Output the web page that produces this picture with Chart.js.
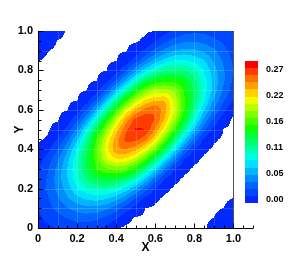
<!DOCTYPE html>
<html>
<head>
<meta charset="utf-8">
<script src="https://cdn.jsdelivr.net/npm/chart.js@4.4.1/dist/chart.umd.min.js"></script>
<style>
  html, body { margin: 0; padding: 0; background: #fff; }
  #wrap { width: 289px; height: 257px; }
</style>
</head>
<body>
<div id="wrap"><canvas id="chart" width="289" height="257"></canvas></div>
<script>
// Grid nodes of the field
const xValues = [0, 0.05, 0.1, 0.15, 0.2, 0.25, 0.3, 0.35, 0.4, 0.45, 0.5, 0.55, 0.6, 0.65, 0.7, 0.75, 0.8, 0.85, 0.9, 0.95, 1];
const yValues = [0, 0.05, 0.1, 0.15, 0.2, 0.25, 0.3, 0.35, 0.4, 0.45, 0.5, 0.55, 0.6, 0.65, 0.7, 0.75, 0.8, 0.85, 0.9, 0.95, 1];

// Field values, one row per y node (bottom to top)
const z00 = [0.0095, 0.0115, 0.0141, 0.0176, 0.0191, 0.0188, 0.0154, 0.0101, 0.0012, 0, 0, 0, 0, 0, 0, 0, 0, 0, 0.004, 0.007, 0.009];
const z01 = [0.0111, 0.0160, 0.0221, 0.0272, 0.0315, 0.0324, 0.0301, 0.0235, 0.0148, 0.0032, 0, 0, 0, 0, 0, 0, 0, 0, 0.0011, 0.004, 0.007];
const z02 = [0.0134, 0.0215, 0.0309, 0.0395, 0.0461, 0.0503, 0.0495, 0.0437, 0.0329, 0.0201, 0.0072, 0.0008, 0, 0, 0, 0, 0, 0, 0, 0.0011, 0.004];
const z03 = [0.0164, 0.0258, 0.0384, 0.0525, 0.0630, 0.0704, 0.0731, 0.0695, 0.0596, 0.0437, 0.0258, 0.0091, 0.0020, 0, 0, 0, 0, 0, 0, 0, 0.0012];
const z04 = [0.0171, 0.0293, 0.0439, 0.0612, 0.0801, 0.0916, 0.0988, 0.0998, 0.0921, 0.0764, 0.0556, 0.0326, 0.0109, 0.0023, 0, 0, 0, 0, 0, 0, 0];
const z05 = [0.0161, 0.0291, 0.0467, 0.0670, 0.0890, 0.1124, 0.1250, 0.1311, 0.1278, 0.1172, 0.0967, 0.0668, 0.0371, 0.0121, 0.0024, 0, 0, 0, 0, 0, 0];
const z06 = [0.0122, 0.0258, 0.0444, 0.0679, 0.0940, 0.1215, 0.1491, 0.1601, 0.1667, 0.1618, 0.1408, 0.1099, 0.0736, 0.0400, 0.0128, 0.0025, 0, 0, 0, 0, 0];
const z07 = [0.0070, 0.0187, 0.0375, 0.0623, 0.0927, 0.1246, 0.1556, 0.1896, 0.2027, 0.2003, 0.1839, 0.1553, 0.1185, 0.0780, 0.0412, 0.0125, 0.0024, 0, 0, 0, 0];
const z08 = [0.0022, 0.0102, 0.0262, 0.0511, 0.0826, 0.1188, 0.1585, 0.1969, 0.2279, 0.2304, 0.2209, 0.1983, 0.1645, 0.1219, 0.0765, 0.0390, 0.0117, 0.0022, 0, 0, 0];
const z09 = [0, 0.0018, 0.0139, 0.0347, 0.0655, 0.1050, 0.1503, 0.1905, 0.2239, 0.2480, 0.2485, 0.2340, 0.2040, 0.1613, 0.1155, 0.0712, 0.0355, 0.0103, 0.0018, 0, 0];
const z10 = [0, 0, 0.0040, 0.0178, 0.0442, 0.0829, 0.1263, 0.1709, 0.2101, 0.2414, 0.2585, 0.2560, 0.2294, 0.1932, 0.1501, 0.1052, 0.0630, 0.0298, 0.0082, 0.0007, 0];
const z11 = [0, 0, 0.0003, 0.0051, 0.0225, 0.0531, 0.0942, 0.1392, 0.1843, 0.2225, 0.2484, 0.2545, 0.2421, 0.2135, 0.1761, 0.1328, 0.0884, 0.0501, 0.0235, 0.0039, 0];
const z12 = [0, 0, 0, 0.0007, 0.0062, 0.0255, 0.0586, 0.1016, 0.1475, 0.1896, 0.2182, 0.2352, 0.2429, 0.2206, 0.1889, 0.1479, 0.1056, 0.0695, 0.0393, 0.0178, 0.0014];
const z13 = [0, 0, 0, 0, 0.0007, 0.0068, 0.0275, 0.0620, 0.1046, 0.1446, 0.1795, 0.2031, 0.2144, 0.2149, 0.1853, 0.1502, 0.1164, 0.0829, 0.0528, 0.0289, 0.0127];
const z14 = [0, 0, 0, 0, 0, 0.0008, 0.0072, 0.0283, 0.0608, 0.0990, 0.1346, 0.1636, 0.1797, 0.1800, 0.1709, 0.1458, 0.1179, 0.0884, 0.0611, 0.0377, 0.0201];
const z15 = [0, 0, 0, 0, 0, 0, 0.0008, 0.0070, 0.0268, 0.0566, 0.0902, 0.1191, 0.1374, 0.1429, 0.1417, 0.1341, 0.1107, 0.0868, 0.0631, 0.0423, 0.0249];
const z16 = [0, 0, 0, 0, 0, 0, 0, 0.0008, 0.0066, 0.0245, 0.0501, 0.0758, 0.0947, 0.1081, 0.1121, 0.1076, 0.0988, 0.0791, 0.0602, 0.0417, 0.0268];
const z17 = [0.0012, 0, 0, 0, 0, 0, 0, 0, 0.0007, 0.0058, 0.0205, 0.0398, 0.0596, 0.0743, 0.0821, 0.0826, 0.0768, 0.0685, 0.0522, 0.0381, 0.0247];
const z18 = [0.004, 0.0012, 0, 0, 0, 0, 0, 0, 0, 0.0006, 0.0046, 0.0162, 0.0312, 0.0453, 0.0547, 0.0586, 0.0573, 0.0507, 0.0434, 0.0310, 0.0215];
const z19 = [0.007, 0.004, 0.0008, 0, 0, 0, 0, 0, 0, 0, 0.0002, 0.0022, 0.0123, 0.0230, 0.0323, 0.0379, 0.0387, 0.0363, 0.0301, 0.0245, 0.0161];
const z20 = [0.009, 0.007, 0.004, 0, 0, 0, 0, 0, 0, 0, 0, 0, 0.0008, 0.0088, 0.0160, 0.0213, 0.0240, 0.0230, 0.0205, 0.0156, 0.0125];
const zRows = [z00, z01, z02, z03, z04, z05, z06, z07, z08, z09, z10, z11, z12, z13, z14, z15, z16, z17, z18, z19, z20];

// Contour levels (20 bands) and tick labels
const levels = [0, 0.0135, 0.027, 0.0405, 0.054, 0.0675, 0.081, 0.0945, 0.108, 0.1215, 0.135,
                0.1485, 0.162, 0.1755, 0.189, 0.2025, 0.216, 0.2295, 0.243, 0.2565, 0.27];
const cutoff = 0.001;
const xTicks = [0, 0.2, 0.4, 0.6, 0.8, 1];
const yTicks = [0, 0.2, 0.4, 0.6, 0.8, 1];
const barTicks = [0, 0.054, 0.108, 0.162, 0.216, 0.27];

// Band colours, lowest first
const bandColors = ['#0028ff', '#0046ff', '#0064ff', '#008cff', '#00b4ff', '#00e0ff', '#00ffe0', '#00ffa8',
                    '#00ff70', '#00ff38', '#10ff00', '#48ff00', '#80ff00', '#b8ff00', '#f0ff00', '#ffd200',
                    '#ffa000', '#ff7000', '#ff3c00', '#ff0000'];
const bandRgb = bandColors.map(h => [parseInt(h.slice(1, 3), 16), parseInt(h.slice(3, 5), 16), parseInt(h.slice(5, 7), 16)]);

const tickFont = { family: "'Liberation Sans', Arial, sans-serif", size: 11, weight: 'bold' };

function bandOf(v) {
  for (let k = bandColors.length - 1; k > 0; k--) {
    if (v >= levels[k]) return k;
  }
  return 0;
}

// value of the field at (X, Y) from the four surrounding nodes
function fieldAt(X, Y) {
  const n = xValues.length - 1;
  const m = yValues.length - 1;
  const fi = (X - xValues[0]) / (xValues[1] - xValues[0]);
  const fj = (Y - yValues[0]) / (yValues[1] - yValues[0]);
  const i = Math.min(n - 1, Math.max(0, Math.floor(fi)));
  const j = Math.min(m - 1, Math.max(0, Math.floor(fj)));
  const tx = fi - i, ty = fj - j;
  const a = zRows[j][i] * (1 - tx) + zRows[j][i + 1] * tx;
  const b = zRows[j + 1][i] * (1 - tx) + zRows[j + 1][i + 1] * tx;
  return a * (1 - ty) + b * ty;
}

const contourPlugin = {
  id: 'contour',
  beforeDatasetsDraw(chart) {
    const { ctx, scales: { x, y } } = chart;
    const left = Math.round(x.getPixelForValue(xValues[0]));
    const right = Math.round(x.getPixelForValue(xValues[xValues.length - 1]));
    const top = Math.round(y.getPixelForValue(yValues[yValues.length - 1]));
    const bottom = Math.round(y.getPixelForValue(yValues[0]));
    const w = right - left, h = bottom - top;
    const img = ctx.createImageData(w, h);
    for (let py = 0; py < h; py++) {
      const Y = y.getValueForPixel(top + py + 0.5);
      for (let px = 0; px < w; px++) {
        const X = x.getValueForPixel(left + px + 0.5);
        const v = fieldAt(X, Y);
        if (v < cutoff) continue;
        const c = bandRgb[bandOf(v)];
        const o = (py * w + px) * 4;
        img.data[o] = c[0];
        img.data[o + 1] = c[1];
        img.data[o + 2] = c[2];
        img.data[o + 3] = 255;
      }
    }
    ctx.putImageData(img, left, top);
  },
  afterDraw(chart) {
    const { ctx, chartArea, scales: { x, y, y2 } } = chart;
    const x0 = Math.round(x.getPixelForValue(0)) + 0.5;
    const x1 = Math.round(x.getPixelForValue(1)) + 0.5;
    const yb = Math.round(y.getPixelForValue(0)) + 0.5;
    const yt = Math.round(y.getPixelForValue(1));
    ctx.save();
    ctx.lineWidth = 1;

    // faint mesh lines over the flood
    ctx.strokeStyle = 'rgba(255,255,255,0.16)';
    ctx.beginPath();
    for (let k = 1; k < 10; k++) {
      const px = Math.round(x.getPixelForValue(k / 10)) + 0.5;
      ctx.moveTo(px, yt);
      ctx.lineTo(px, yb);
      const py = Math.round(y.getPixelForValue(k / 10)) + 0.5;
      ctx.moveTo(x0, py);
      ctx.lineTo(x1, py);
    }
    ctx.stroke();

    // right edge of the domain
    ctx.strokeStyle = '#555';
    ctx.beginPath();
    ctx.moveTo(x1, yt);
    ctx.lineTo(x1, yb);
    ctx.stroke();

    // axis lines and inward ticks
    ctx.strokeStyle = '#000';
    ctx.beginPath();
    ctx.moveTo(x0, yt);
    ctx.lineTo(x0, yb);
    ctx.lineTo(chartArea.right, yb);
    for (let k = 0; k <= 22; k++) {
      const px = Math.round(x.getPixelForValue(k * 0.05)) + 0.5;
      const len = k % 4 === 0 ? 5 : 3;
      ctx.moveTo(px, yb);
      ctx.lineTo(px, yb - len);
    }
    for (let k = 0; k <= 20; k++) {
      const py = Math.round(y.getPixelForValue(k * 0.05)) + 0.5;
      const len = k % 4 === 0 ? 5 : 3;
      ctx.moveTo(x0, py);
      ctx.lineTo(x0 + len, py);
    }
    ctx.stroke();

    // colour bar
    const barTop = Math.round(y2.getPixelForValue(barTicks[barTicks.length - 1])) - 9;
    const barBottom = Math.round(y2.getPixelForValue(barTicks[0])) + 3;
    const barLeft = Math.round(x.getPixelForValue(1)) + 12;
    const barW = 13;
    const n = bandColors.length;
    for (let k = 0; k < n; k++) {
      const yA = Math.round(barBottom - (k + 1) * (barBottom - barTop) / n);
      const yB = Math.round(barBottom - k * (barBottom - barTop) / n);
      ctx.fillStyle = bandColors[k];
      ctx.fillRect(barLeft, yA, barW, yB - yA);
    }
    ctx.restore();
  }
};

new Chart(document.getElementById('chart'), {
  type: 'scatter',
  data: { datasets: [] },
  options: {
    responsive: false,
    animation: false,
    devicePixelRatio: 1,
    layout: { padding: { top: 31, left: 0, right: 0, bottom: 0 } },
    plugins: { legend: { display: false }, tooltip: { enabled: false } },
    scales: {
      x: {
        type: 'linear', position: 'bottom', min: 0, max: 1.1,
        grid: { display: false, drawTicks: false },
        border: { display: false },
        afterBuildTicks: s => { s.ticks = xTicks.map(v => ({ value: v })); },
        afterFit: s => { s.height = 29; },
        ticks: { color: '#000', font: tickFont, padding: 4, maxRotation: 0, autoSkip: false },
        title: { display: true, text: 'X', color: '#000', padding: { top: 0, bottom: 2 },
                 font: { family: "'Liberation Sans', Arial, sans-serif", size: 12, weight: 'bold' } }
      },
      y: {
        type: 'linear', position: 'left', min: 0, max: 1,
        grid: { display: false, drawTicks: false },
        border: { display: false },
        afterBuildTicks: s => { s.ticks = yTicks.map(v => ({ value: v })); },
        afterFit: s => { s.width = 38; },
        ticks: { color: '#000', font: tickFont, padding: 5, autoSkip: false },
        title: { display: true, text: 'Y', color: '#000', padding: { top: 12, bottom: 0 },
                 font: { family: "'Liberation Sans', Arial, sans-serif", size: 12, weight: 'bold' } }
      },
      y2: {
        type: 'linear', position: 'right', min: -0.0582, max: 0.351,
        grid: { display: false, drawTicks: false },
        border: { display: false },
        afterBuildTicks: s => { s.ticks = barTicks.map(v => ({ value: v })); },
        afterFit: s => { s.width = 36; },
        ticks: { color: '#000', padding: 13, autoSkip: false,
                 font: { family: "'Liberation Sans', Arial, sans-serif", size: 9, weight: 'bold' },
                 callback: v => v.toFixed(2) }
      }
    }
  },
  plugins: [contourPlugin]
});
</script>
</body>
</html>
